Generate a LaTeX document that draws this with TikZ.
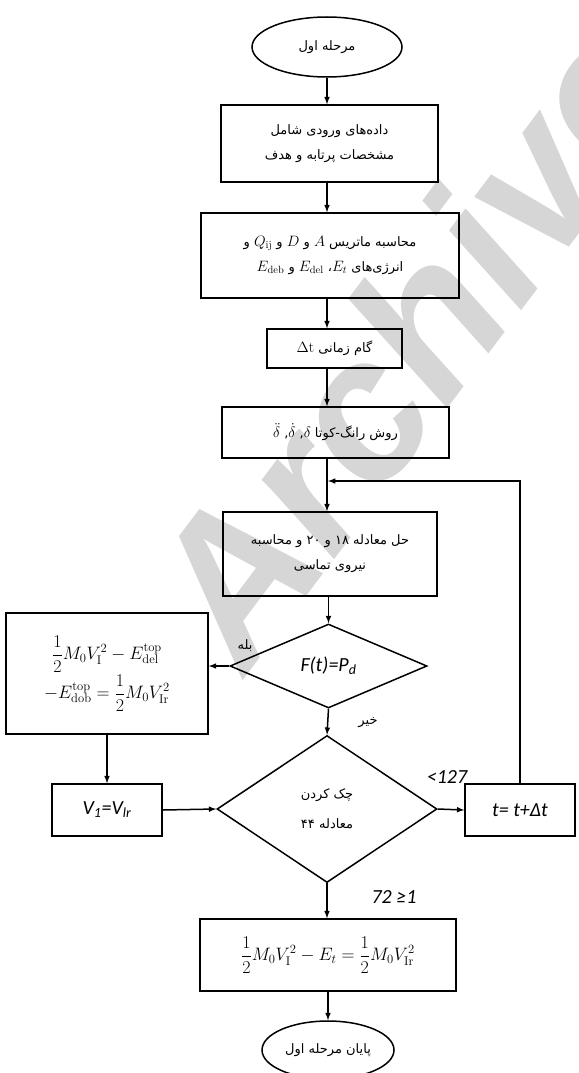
\RequirePackage{fix-cm}
\documentclass[tikz,border=0pt]{standalone}
\usepackage{fontspec}
\usetikzlibrary{shapes.geometric}
\TeXXeTstate=1
\newfontfamily\fa[Script=Arabic]{DejaVu Sans}
\newfontfamily\calfont{Carlito}
\newfontfamily\wmfont{Liberation Sans}
\newcommand{\mth}[1]{\mbox{\fontsize{15}{15}\selectfont$#1$}}

\begin{document}
\begin{tikzpicture}[x=1pt,y=-1pt,
    box/.style={draw,line width=1.5pt,align=center,inner sep=1pt,font=\fa\fontsize{13}{25}\selectfont},
    oval/.style={draw,ellipse,line width=1.5pt,inner sep=0pt,font=\fa\fontsize{13}{25}\selectfont},
    cond/.style={draw,diamond,line width=1.5pt,inner sep=0pt,align=center,font=\fa\fontsize{13}{30}\selectfont},
    lab/.style={inner sep=1pt,font=\calfont\itshape\fontsize{20}{20}\selectfont},
    falab/.style={inner sep=1pt,font=\fa\fontsize{13}{13}\selectfont},
    arr/.style={->,>=latex,line width=1.5pt}]
\useasboundingbox (0,0) rectangle (578,1073);
\clip (0,0) rectangle (578,1073);
% watermark and cut-off bits at the top
\node[rotate=53,anchor=base west,inner sep=0pt,text=black!16,
      font=\wmfont\bfseries\itshape\fontsize{200}{200}\selectfont] (wm) at (245,678) {Archive};
\node[font=\fontsize{16}{16}\selectfont] (frag1) at (9,-6) {$2$};
\node[font=\fontsize{16}{16}\selectfont] (frag2) at (182,-6) {$2$};

% main column
\node[oval,minimum width=150pt,minimum height=60pt] (start) at (327,47) {\beginR مرحله اول\endR};
\node[box,minimum width=217pt,minimum height=77pt] (data) at (329.5,143.5)
    {\beginR داده^^^^200cهای ورودی شامل\endR\\\beginR مشخصات پرتابه و هدف\endR};
\node[box,minimum width=258pt,minimum height=85pt] (calc) at (330,255.5)
    {\beginR محاسبه ماتریس \mth{A} و \mth{D} و \mth{Q_{\mathrm{ij}}} و\endR\\
     \beginR انرژی^^^^200cهای \mth{E_t}، \mth{E_{\mathrm{del}}} و \mth{E_{\mathrm{deb}}}\endR};
\node[box,minimum width=135pt,minimum height=39pt] (dt) at (334.5,348.5)
    {\beginR گام زمانی \mth{\Delta\mathrm{t}}\endR};
\node[box,minimum width=227pt,minimum height=51pt] (rk) at (335.5,432.5)
    {\beginR روش رانگ-کوتا \mth{\delta}, \mth{\dot{\delta}}, \mth{\ddot{\delta}}\endR};
\node[box,minimum width=214pt,minimum height=84pt] (solve) at (330,554)
    {\beginR حل معادله ۱۸ و ۲۰ و محاسبه\endR\\\beginR نیروی تماسی\endR};
\node[cond,minimum width=197pt,minimum height=84pt] (force) at (328.5,666)
    {\calfont\itshape\fontsize{20}{20}\selectfont F(t)=P\textsubscript{d}};
\node[box,minimum width=202pt,minimum height=121pt,font=\fontsize{18}{20}\selectfont] (energy) at (107,673.5)
    {$\displaystyle\frac{1}{2}M_0V_{\mathrm{I}}^2-E_{\mathrm{del}}^{\mathrm{top}}$\\[2pt]
     $\displaystyle-E_{\mathrm{dob}}^{\mathrm{top}}=\frac{1}{2}M_0V_{\mathrm{Ir}}^2$};
\node[box,minimum width=110pt,minimum height=52pt,font=\calfont\itshape\fontsize{20}{20}\selectfont] (vnew) at (107,810)
    {V\textsubscript{1}=V\textsubscript{lr}};
\node[cond,minimum width=220pt,minimum height=147pt] (check) at (327,809)
    {\beginR چک کردن\endR\\\beginR معادله ۴۴\endR};
\node[box,minimum width=110pt,minimum height=52pt,font=\calfont\itshape\fontsize{20}{20}\selectfont] (tstep) at (520,810)
    {t= t+Δt};
\node[box,minimum width=256pt,minimum height=72pt,font=\fontsize{18}{20}\selectfont] (final) at (328,955)
    {$\displaystyle\frac{1}{2}M_0V_{\mathrm{I}}^2-E_t=\frac{1}{2}M_0V_{\mathrm{Ir}}^2$};
\node[oval,minimum width=132pt,minimum height=58pt] (stop) at (328,1050) {\beginR پایان مرحله اول\endR};

% labels on the branches
\node[falab] (yes) at (245,646) {\beginR بله\endR};
\node[falab] (no) at (368,723) {\beginR خیر\endR};
\node[lab] (less) at (447,777) {<127};
\node[lab] (more) at (394,897) {72 ≥1};

\coordinate (join) at (328,481);

\draw[arr] (start) -- (start |- data.north);
\draw[arr] (data.south -| start) -- (calc.north -| start);
\draw[arr] (calc.south -| start) -- (dt.north -| start);
\draw[arr] (dt.south -| start) -- (rk.north -| start);
\draw[arr] (rk.south -| start) -- (solve.north -| start);
\draw[arr] (tstep.north) |- (join);
\draw[arr] (solve.south -| force) -- (force.north);
\draw[arr] (force.west) -- (energy.east |- force.west);
\draw[arr] (force.south) -- (check.north);
\draw[arr] (energy.south) -- (vnew.north);
\draw[arr] (vnew.east) -- (check.west);
\draw[arr] (check.east) -- (tstep.west);
\draw[arr] (check.south) -- (final.north -| check.south);
\draw[arr] (final.south -| stop) -- (stop.north);
\end{tikzpicture}
\end{document}
